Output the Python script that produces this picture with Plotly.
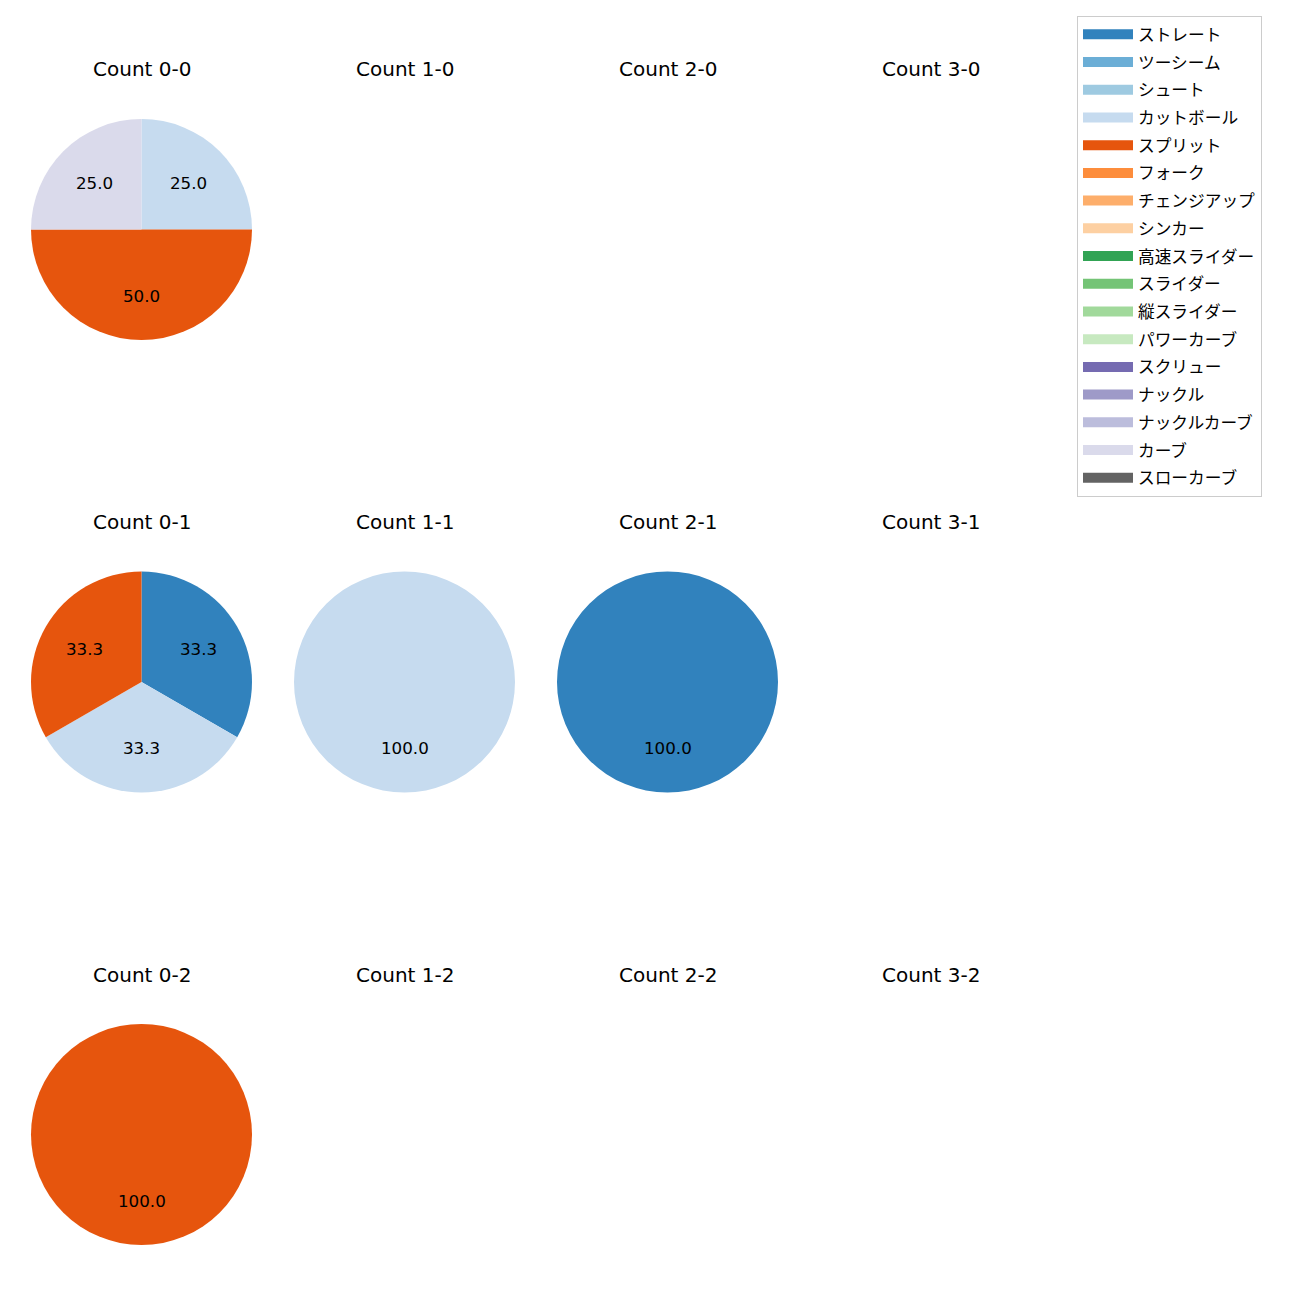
import math
import plotly.graph_objects as go

W = H = 1300
OFF = 8  # page offset of the plot div

pitch_types = ["ストレート", "ツーシーム", "シュート", "カットボール", "スプリット", "フォーク",
               "チェンジアップ", "シンカー", "高速スライダー", "スライダー", "縦スライダー",
               "パワーカーブ", "スクリュー", "ナックル", "ナックルカーブ", "カーブ", "スローカーブ"]
colors = ["#3182bd", "#6baed6", "#9ecae1", "#c6dbef", "#e6550d", "#fd8d3c", "#fdae6b", "#fdd0a2",
          "#31a354", "#74c476", "#a1d99b", "#c7e9c0", "#756bb1", "#9e9ac8", "#bcbddc", "#dadaeb",
          "#636363"]

# balls (columns) and strikes (rows)
balls = [0, 1, 2, 3]
strikes = [0, 1, 2]

# pitch counts per ball-strike count: {pitch type: count}
count_0_0 = {"カットボール": 1, "スプリット": 2, "カーブ": 1}
count_0_1 = {"ストレート": 1, "カットボール": 1, "スプリット": 1}
count_1_1 = {"カットボール": 1}
count_2_1 = {"ストレート": 1}
count_0_2 = {"スプリット": 1}
data = {(0, 0): count_0_0, (0, 1): count_0_1, (1, 1): count_1_1,
        (2, 1): count_2_1, (0, 2): count_0_2}

# layout geometry (pixels, page coordinates)
col_cx = [141.5, 404.5, 667.5, 930.5]
row_cy = [229.5, 682.0, 1134.5]
R = 110.5
title_dy = 160


def px(x):
    return (x - OFF) / W


def py(y):
    return 1 - (y - OFF) / H


fig = go.Figure()
annotations = []
FONT = "DejaVu Sans, Noto Sans CJK JP"

for s in strikes:
    for b in balls:
        cx, cy = col_cx[b], row_cy[s]
        annotations.append(dict(x=px(cx), y=py(cy - title_dy), xref="paper", yref="paper",
                                text=f"Count {b}-{s}", showarrow=False, xanchor="center",
                                yanchor="middle", font=dict(size=20, color="black", family=FONT)))
        d = data.get((b, s))
        if not d:
            continue
        labels = [p for p in pitch_types if d.get(p, 0) > 0]
        vals = [d[p] for p in labels]
        cols = [colors[pitch_types.index(p)] for p in labels]
        fig.add_trace(go.Pie(labels=labels, values=vals, marker=dict(colors=cols),
                             sort=False, direction="clockwise", rotation=0,
                             textinfo="none", hoverinfo="label+percent", showlegend=False,
                             domain=dict(x=[px(cx - R), px(cx + R)],
                                         y=[py(cy + R), py(cy - R)])))
        total = sum(vals)
        cum = 0
        for v in vals:
            mid = 90 - 360 * (cum + v / 2) / total
            cum += v
            tx = cx + 0.6 * R * math.cos(math.radians(mid))
            ty = cy - 0.6 * R * math.sin(math.radians(mid))
            annotations.append(dict(x=px(tx), y=py(ty), xref="paper", yref="paper",
                                    text=f"{100 * v / total:.1f}", showarrow=False,
                                    xanchor="center", yanchor="middle",
                                    font=dict(size=16.7, color="black", family=FONT)))

# legend entries
for p, c in zip(pitch_types, colors):
    fig.add_trace(go.Scatter(x=[None], y=[None], mode="lines", name=p, legendgroup=p,
                             line=dict(color=c, width=14), showlegend=True))

fig.update_layout(
    width=W, height=H, margin=dict(l=0, r=0, t=0, b=0),
    paper_bgcolor="white", plot_bgcolor="white",
    xaxis=dict(visible=False), yaxis=dict(visible=False),
    annotations=annotations,
    showlegend=True,
    legend=dict(x=px(1077), y=py(16), xanchor="left", yanchor="top",
                bordercolor="#cccccc", borderwidth=1, bgcolor="white",
                font=dict(size=16.7, color="black", family=FONT),
                tracegroupgap=3, traceorder="grouped", itemwidth=50),
)

fig.write_html("out.html")
